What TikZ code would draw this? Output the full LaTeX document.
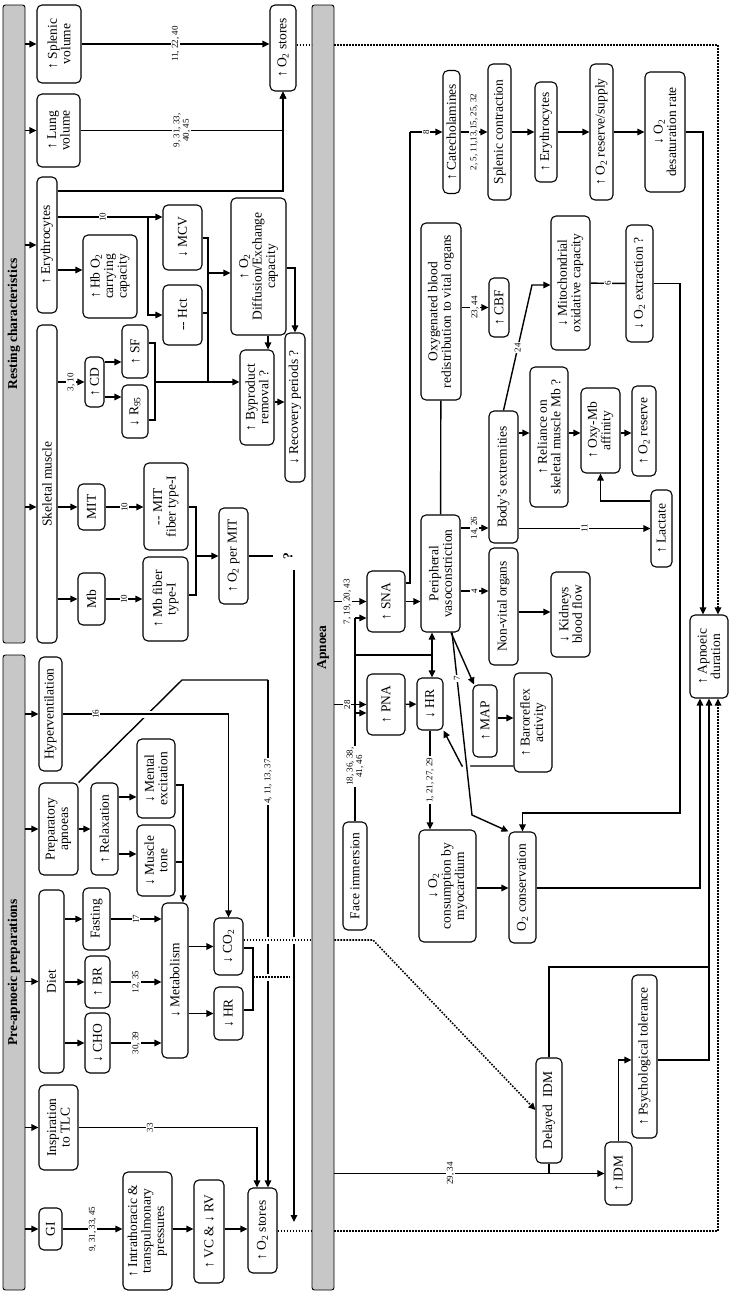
\documentclass[tikz,border=0pt]{standalone}
\usepackage{fontspec}
\setmainfont{Liberation Serif}
\usetikzlibrary{arrows.meta,calc}
\newcommand\fs{\fontsize{13.5}{13.5}\selectfont}
\newcommand\lfs{\fontsize{9}{9.5}\selectfont}
\newcommand\two{\textsubscript{2}}
\begin{document}
\begin{tikzpicture}[x=1pt,y=-1pt,
  bx/.style={draw, line width=1.1pt, rounded corners=5pt, fill=white, rotate=90, align=center, inner sep=0pt, font=\fs},
  barbox/.style={draw, line width=0.9pt, rounded corners=2.5pt, fill=black!22, rotate=90, inner sep=0pt, font=\fs\bfseries},
  wh/.style 2 args={minimum width=#1pt, minimum height=#2pt},
  ln/.style={line width=1.4pt},
  arr/.style={ln, -{Triangle[length=7pt,width=6.5pt]}},
  dot/.style={line width=1.6pt, dash pattern=on 1.6pt off 1.4pt},
  darr/.style={dot, -{Triangle[length=7pt,width=6.5pt]}},
  lbl/.style={fill=white, inner sep=1.2pt, font=\lfs, rotate=90, align=center},
  gap/.style={white, line width=7pt}]
\useasboundingbox (0,0) rectangle (730,1299);

% ---------- header bars ----------
\node[barbox, wh={638}{22}] (barR) at (14,324) {Resting characteristics};
\node[barbox, wh={635}{22}] (barP) at (14,972.5) {Pre-apnoeic preparations};
\node[barbox, wh={1285}{22}] (barA) at (323,647.5) {Apnoea};

% ---------- resting characteristics ----------
\node[bx, wh={78}{44}] (splen) at (59,44) {↑ Splenic\\volume};
\node[bx, wh={73}{43}] (lung) at (58.5,130.5) {↑ Lung\\volume};
\node[bx, wh={136}{20}] (eryR) at (47,245) {↑ Erythrocytes};
\node[bx, wh={318}{20}] (skel) at (47,484) {Skeletal muscle};
\node[bx, wh={86}{26}] (o2top) at (283,48) {↑ O\two{} stores};
\node[bx, wh={83}{54}] (hb) at (110,276.5) {↑ Hb O\two\\carrying\\capacity};
\node[bx, wh={65}{39}] (mcv) at (182.5,237.5) {↓ MCV};
\node[bx, wh={60}{39}] (hct) at (182.5,315) {-{}- Hct};
\node[bx, wh={137}{55}] (diff) at (258.5,266.5) {↑ O\two\\Diffusion/Exchange\\capacity};
\node[bx, wh={95}{34}] (byp) at (257,397.5) {↑ Byproduct\\removal ?};
\node[bx, wh={149}{20}] (rec) at (295,407.5) {↓ Recovery periods ?};
\node[bx, wh={50}{19}] (cd) at (94.5,382) {↑ CD};
\node[bx, wh={53}{26}] (sf) at (135,351.5) {↑ SF};
\node[bx, wh={53}{26}] (r95) at (135,411.5) {↓ R\textsubscript{95}};
\node[bx, wh={46}{27}] (mit) at (91.5,507) {MIT};
\node[bx, wh={52}{27}] (mb) at (91.5,599) {Mb};
\node[bx, wh={87}{44}] (mitf) at (166,506.5) {-{}- MIT\\fiber type-I};
\node[bx, wh={84}{45}] (mbf) at (165.5,599) {↑ Mb fiber\\type-I};
\node[bx, wh={96}{29}] (o2mit) at (233.5,556) {↑ O\two{} per MIT};
\node[rotate=90, inner sep=1pt, font=\fs\bfseries] (q) at (288,556) {?};

% ---------- pre-apnoeic preparations ----------
\node[bx, wh={114}{23}] (hyper) at (50.5,714) {Hyperventilation};
\node[bx, wh={92}{39}] (prep) at (58.5,829) {Preparatory\\apnoeas};
\node[bx, wh={92}{27}] (relax) at (104.5,829) {↑ Relaxation};
\node[bx, wh={79}{38}] (mental) at (156,778.5) {↓ Mental\\excitation};
\node[bx, wh={71}{38}] (tone) at (156,860.5) {↓ Muscle\\tone};
\node[bx, wh={155}{26}] (metab) at (175,980.5) {↓ Metabolism};
\node[bx, wh={183}{25}] (diet) at (51.5,981.5) {Diet};
\node[bx, wh={62}{27}] (fast) at (96.5,919) {Fasting};
\node[bx, wh={52}{25}] (br) at (97.5,982) {↑ BR};
\node[bx, wh={60}{25}] (cho) at (97.5,1043) {↓ CHO};
\node[bx, wh={57}{29}] (co2) at (228.5,946.5) {↓ CO\two};
\node[bx, wh={53}{29}] (hrP) at (228.5,1013.5) {↓ HR};
\node[bx, wh={85}{39}] (tlc) at (58.5,1127.5) {Inspiration\\to TLC};
\node[bx, wh={42}{23}] (gi) at (50.5,1229) {GI};
\node[bx, wh={118}{49}] (intra) at (147.5,1231) {↑ Intrathoracic \&\\transpulmonary\\pressures};
\node[bx, wh={103}{30}] (vc) at (209,1231.5) {↑ VC \& ↓ RV};
\node[bx, wh={85}{29}] (o2bot) at (262.5,1230.5) {↑ O\two{} stores};

% ---------- apnoea ----------
\node[bx, wh={123}{17}] (cat) at (451.5,132) {↑ Catecholamines};
\node[bx, wh={136}{23}] (splc) at (499.5,132) {Splenic contraction};
\node[bx, wh={100}{22}] (eryA) at (546,132) {↑ Erythrocytes};
\node[bx, wh={136}{23}] (o2rs) at (601.5,132) {↑ O\two{} reserve/supply};
\node[bx, wh={120}{40}] (desat) at (665,132) {↓ O\two\\desaturation rate};
\node[bx, wh={177}{40}] (oxy) at (441,311.5) {Oxygenated blood\\redistribution to vital organs};
\node[bx, wh={59}{20}] (cbf) at (499,307.5) {↑ CBF};
\node[bx, wh={134}{39}] (mito) at (570.5,283) {↓ Mitochondrial\\oxidative capacity};
\node[bx, wh={117}{27}] (o2ext) at (639.5,283.5) {↓ O\two{} extraction ?};
\node[bx, wh={132}{29}] (body) at (503.5,477) {Body’s extremities};
\node[bx, wh={140}{38}] (reli) at (549,437) {↑ Reliance on\\skeletal muscle Mb ?};
\node[bx, wh={85}{39}] (oxymb) at (600.5,430.5) {↑ Oxy-Mb\\affinity};
\node[bx, wh={90}{24}] (o2res) at (644,431) {↑ O\two{} reserve};
\node[bx, wh={77}{21}] (lact) at (661.5,528.5) {↑ Lactate};
\node[bx, wh={61}{38}] (sna) at (386,601.5) {↑ SNA};
\node[bx, wh={61}{38}] (pna) at (386,704.5) {↑ PNA};
\node[bx, wh={52}{26}] (hrA) at (430,704) {↓ HR};
\node[bx, wh={117}{39}] (peri) at (440.5,573.5) {Peripheral\\vasoconstriction};
\node[bx, wh={117}{29}] (nonv) at (503.5,606.5) {Non-vital organs};
\node[bx, wh={85}{39}] (kid) at (570.5,614.5) {↓ Kidneys\\blood flow};
\node[bx, wh={72}{24}] (map) at (485,721) {↑ MAP};
\node[bx, wh={99}{38}] (baro) at (533,722.5) {↑ Baroreflex\\activity};
\node[bx, wh={112}{57}] (o2cons) at (447.5,886) {↓ O\two\\consumption by\\myocardium};
\node[bx, wh={111}{27}] (o2conv) at (522.5,887.5) {O\two{} conservation};
\node[bx, wh={108}{24}] (face) at (355,876) {Face immersion};
\node[bx, wh={83}{38}] (apd) at (709,656.5) {↑ Apnoeic\\duration};
\node[bx, wh={105}{26}] (dIDM) at (549,1110.5) {Delayed\enspace IDM};
\node[bx, wh={163}{25}] (psych) at (644.5,1056.5) {↑ Psychological tolerance};
\node[bx, wh={63}{27}] (idm) at (618.5,1173.5) {↑ IDM};

% ---------- bar arrows ----------
\foreach \n in {splen,lung,eryR} \draw[arr] (barR.south |- \n) -- (\n);
\draw[arr] (barR.south |- mit) -- (skel.north |- mit);
\foreach \n in {hyper,prep,diet,tlc,gi} \draw[arr] (barP.south |- \n) -- (\n);

% ---------- resting connectors ----------
\draw[arr] (splen) -- (splen -| o2top.north) node[lbl,midway]{11, 22, 40};
\draw[arr] (lung) -| (o2top.west) node[lbl,pos=0.25]{9, 31, 33,\\40, 45};
\draw[arr] (eryR.south |- 0,191) -| (o2top.west);
\draw[arr] (eryR.south |- 0,270) -- (hb.north |- 0,270);
\draw[ln] (eryR.south |- 0,217) -- (148,217) node[lbl,midway]{10};
\draw[arr] (148,217) -- (mcv.north |- 0,217);
\draw[arr] (148,217) |- (hct);
\draw[ln] (mcv.south |- 0,238) -- (208,238) -- (208,382);
\draw[ln] (hct.south |- 0,313) -- (208,313);
\draw[arr] (208,273) -- (diff.north |- 0,273);
\draw[arr] (skel.south |- cd) -- (cd) node[lbl,midway]{3, 10};
\draw[arr] (cd.south |- 0,362) -- (sf.north |- 0,362);
\draw[arr] (cd.south |- 0,397) -- (r95.north |- 0,397);
\draw[ln] (sf.south |- 0,343) -- (155,343) -- (155,420) -- (r95.south |- 0,420);
\draw[arr] (155,382) -- (byp.north |- 0,382);
\draw[arr] (268,0 |- diff.west) -- (268,0 |- byp.east);
\draw[arr] (diff.south |- 0,268) -| (rec.east);
\draw[arr] (byp.south |- 0,402) -- (rec.north |- 0,402);
\draw[arr] (skel.south |- mit) -- (mit);
\draw[arr] (skel.south |- mb) -- (mb);
\draw[arr] (mit) -- (mitf.north |- mit) node[lbl,midway]{10};
\draw[arr] (mb) -- (mbf.north |- mb) node[lbl,midway]{10};
\draw[ln] (mitf.south |- 0,507) -- (196,507) -- (196,595) -- (mbf.south |- 0,595);
\draw[arr] (196,556) -- (o2mit);
\draw[ln, shorten >=9pt] (o2mit) -- (q);

% ---------- pre-apnoeic connectors ----------
\draw[ln] (prep.south east) -- (182,680) -- (268,680);
\draw[arr] (268,680) -- (268,0 |- o2bot.east) node[lbl,pos=0.2]{4, 11, 13, 37};
\draw[gap] (141,714) -- (155,714);
\draw[arr] (hyper) -| (co2) node[lbl,pos=0.1]{16};
\draw[arr] (prep) -- (relax);
\draw[arr] (relax.south |- 0,797) -- (mental.north |- 0,797);
\draw[arr] (relax.south |- 0,854) -- (tone.north |- 0,854);
\draw[arr] (mental.south |- 0,785) -| (183,0 |- metab.east);
\draw[ln] (tone.south |- 0,862) -- (183,862);
\foreach \n/\t in {fast/17, br/{12, 35}, cho/{30, 39}} {
  \draw[arr] (diet.south |- \n) -- (\n);
  \draw[arr] (\n) -- (metab.north |- \n) node[lbl,midway]{\t};
}
\draw[arr] (metab.south |- co2) -- (co2);
\draw[arr] (metab.south |- hrP) -- (hrP);
\draw[ln] (co2.south |- 0,948) -- (253,948) -- (253,1010) -- (hrP.south |- 0,1010);
\draw[gap] (262,977) -- (274,977);
\draw[dot] (253,977) -- (290,977);
\draw[gap] (260,940) -- (300,940);
\draw[arr] (294,570) -- (294,1222);
\draw[gap] (288,940) -- (300,940);
\draw[dot] (co2.south |- 0,940) -- (barA.north |- 0,940);
\draw[darr] (barA.south |- 0,940) -- (373,940) -- (dIDM.north |- 0,1110);
\draw[arr] (tlc) -| (257,0 |- o2bot.east) node[lbl,pos=0.2]{33};
\draw[arr] (gi) -- (intra.north |- gi) node[lbl,midway]{9, 31, 33, 45};
\draw[arr] (intra.south |- gi) -- (vc.north |- gi);
\draw[arr] (vc.south |- gi) -- (o2bot.north |- gi);

% ---------- dotted O2 store lines ----------
\draw[dot] (o2top.south |- 0,45) -- (barA.north |- 0,45);
\draw[darr] (barA.south |- 0,45) -| (718,0 |- apd.east);
\draw[dot] (o2bot.south |- 0,1231) -- (barA.north |- 0,1231);
\draw[darr] (barA.south |- 0,1231) -| (718,0 |- apd.west);

% ---------- apnoea connectors ----------
\draw[arr] (barA.south |- sna) -- (sna) node[lbl,pos=0.4]{7, 19, 20, 43};
\draw[arr] (barA.south |- pna) -- (pna) node[lbl,pos=0.4]{28};
\draw[ln] (face) -- (face.east |- 0,618) node[lbl,pos=0.27]{18, 36, 38,\\41, 46};
\draw[arr] (face.east |- 0,618) -- (sna.north |- 0,618);
\draw[arr] (face.east |- 0,713) -- (pna.north |- 0,713);
\draw[ln] (face.east |- 0,655) -- (432,655);
\draw[arr] (432,655) -- (432,0 |- peri.west);
\draw[arr] (432,655) -- (432,0 |- hrA.east);
\draw[arr] (pna) -- (hrA);
\draw[arr] (sna) -- (peri.north |- sna);
\draw[ln] (sna.south |- 0,583) -| (410,0 |- cat);
\draw[arr] (410,0 |- cat) -- (cat) node[lbl,midway]{8};
\draw[arr] (cat) -- (splc) node[lbl,midway]{2, 5, 11,13,15, 25, 32};
\draw[arr] (splc) -- (eryA);
\draw[arr] (eryA) -- (o2rs);
\draw[arr] (o2rs) -- (desat);
\draw[arr] (desat) -| (703,0 |- apd.east);
\draw[ln] (oxy) -- (peri);
\draw[arr] (oxy.south |- cbf) -- (cbf) node[lbl,midway]{23, 44};
\draw[arr] (body.east) -- (532,285) node[lbl,midway]{24} -- (mito.north |- 0,285);
\draw[ln] (mito) -- (o2ext) node[lbl,midway]{6};
\draw[arr] (o2ext) -| (680,813) -| (o2conv.east);
\draw[arr] (body.south |- 0,433) -- (reli.north |- 0,433);
\draw[arr] (reli.south |- 0,433) -- (oxymb.north |- 0,433);
\draw[arr] (oxymb.south |- 0,433) -- (o2res.north |- 0,433);
\draw[arr] (body.south |- lact) -- (lact) node[lbl,midway]{11};
\draw[arr] (lact.north |- 0,501) -| (oxymb.west);
\draw[arr] (peri.south |- 0,528) -- (body.north |- 0,528) node[lbl,midway]{14, 26};
\draw[arr] (peri.south |- 0,591) -- (nonv.north |- 0,591) node[lbl,midway]{4};
\draw[arr] (nonv.south |- 0,612) -- (kid.north |- 0,612);
\draw[arr] (451,0 |- peri.west) -- (474,0 |- map.east);
\draw[arr] (map.south |- 0,718) -- (baro.north |- 0,718);
\draw[arr] (baro.north |- 0,766) -- (462,766) -- (hrA.south west);
\draw[gap] ($(452,632)!0.69!(472,815)$) -- ($(452,632)!0.77!(472,815)$);
\draw[arr] (452,0 |- peri.west) -- (472,815) node[lbl,pos=0.25]{7} -- (o2conv.north east);
\draw[arr] (hrA) -- (hrA |- o2cons.east) node[lbl,midway]{1, 21, 27, 29};
\draw[arr] (o2cons.south |- 0,888) -- (o2conv.north |- 0,888);
\draw[arr] (o2conv.south |- 0,888) -| (700,0 |- apd.west);
\draw[arr] (dIDM.east) |- (709,967) -- (709,0 |- apd.west);
\draw[ln] (psych.south |- 0,1060) -| (709,967);
\draw[arr] (idm.east) |- (psych.north |- 0,1060);
\draw[arr] (barA.south |- idm) -- (idm) node[lbl,pos=0.43]{29, 34};
\draw[ln] (dIDM.west) -- (dIDM.west |- idm);
\end{tikzpicture}
\end{document}
